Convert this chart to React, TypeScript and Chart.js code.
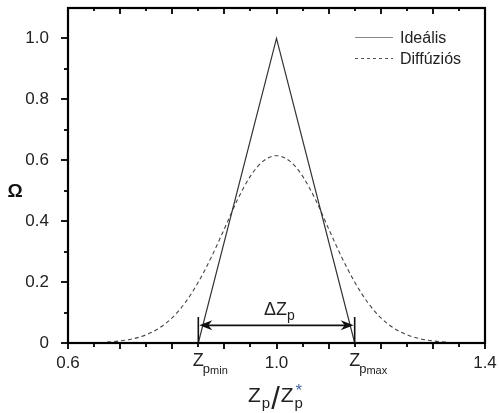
import React, { useEffect, useRef } from "react";
import { Chart, registerables } from "chart.js";

Chart.register(...registerables);

// ---- data ----
const IDEAL_X = [0.85, 1.0, 1.15];
const IDEAL_Y = [0, 1.0, 0];

const DIFF_X = [
  0.675, 0.7, 0.725, 0.75, 0.775, 0.8, 0.825, 0.85, 0.875, 0.9, 0.925, 0.95, 0.975, 1.0,
  1.025, 1.05, 1.075, 1.1, 1.125, 1.15, 1.175, 1.2, 1.225, 1.25, 1.275, 1.3, 1.325,
];
const DIFF_Y = [
  0.003, 0.007, 0.014, 0.027, 0.049, 0.083, 0.133, 0.2, 0.282, 0.375, 0.47, 0.548, 0.598, 0.615,
  0.598, 0.548, 0.47, 0.375, 0.282, 0.2, 0.133, 0.083, 0.049, 0.027, 0.014, 0.007, 0.003,
];

const X_TICK_LABELS = [0.6, 1.0, 1.4];
const Y_TICK_LABELS = [0, 0.2, 0.4, 0.6, 0.8, 1.0];
const X_MARK_TICKS = [0.6, 0.65, 0.7, 0.75, 0.8, 0.85, 0.9, 0.95, 1.0, 1.05, 1.1, 1.15, 1.2, 1.25, 1.3, 1.35, 1.4];
const Y_MARK_TICKS = [0, 0.1, 0.2, 0.3, 0.4, 0.5, 0.6, 0.7, 0.8, 0.9, 1.0];

const Z_MIN = 0.85;
const Z_MAX = 1.15;
const ARROW_Y = 0.058;
const BAR_TOP = 0.085;

const LEGEND = ["Ideális", "Diffúziós"];

const FONT = "'Liberation Sans', Arial, sans-serif";

const overlay = {
  id: "overlay",
  afterDraw(chart: any) {
    const ctx = chart.ctx as CanvasRenderingContext2D;
    const xs = chart.scales.x;
    const ys = chart.scales.y;
    const { left, right, top, bottom } = chart.chartArea;
    ctx.save();

    // frame
    ctx.strokeStyle = "#000";
    ctx.lineWidth = 2.2;
    ctx.strokeRect(left, top, right - left, bottom - top);

    // ticks
    ctx.lineWidth = 1.8;
    X_MARK_TICKS.forEach((v, i) => {
      const px = Math.round(xs.getPixelForValue(v));
      const major = i % 2 === 0;
      ctx.beginPath();
      ctx.moveTo(px, bottom);
      ctx.lineTo(px, bottom + (major ? 6 : 4));
      ctx.moveTo(px, top);
      ctx.lineTo(px, top + (major ? 6 : 3));
      ctx.stroke();
    });
    Y_MARK_TICKS.forEach((v, i) => {
      const py = Math.round(ys.getPixelForValue(v));
      const major = i % 2 === 0;
      ctx.beginPath();
      ctx.moveTo(left, py);
      ctx.lineTo(left - (major ? 7 : 4), py);
      ctx.stroke();
    });

    // delta arrow
    const x1 = xs.getPixelForValue(Z_MIN);
    const x2 = xs.getPixelForValue(Z_MAX);
    const ay = ys.getPixelForValue(ARROW_Y);
    const by = ys.getPixelForValue(BAR_TOP);
    ctx.strokeStyle = "#111";
    ctx.fillStyle = "#111";
    ctx.lineWidth = 1.6;
    ctx.beginPath();
    ctx.moveTo(x1, bottom);
    ctx.lineTo(x1, by);
    ctx.moveTo(x2, bottom);
    ctx.lineTo(x2, by);
    ctx.moveTo(x1 + 4, ay);
    ctx.lineTo(x2 - 4, ay);
    ctx.stroke();
    const head = (tip: number, dir: number) => {
      ctx.beginPath();
      ctx.moveTo(tip, ay);
      ctx.lineTo(tip + dir * 13, ay - 5);
      ctx.lineTo(tip + dir * 9, ay);
      ctx.lineTo(tip + dir * 13, ay + 5);
      ctx.closePath();
      ctx.fill();
    };
    head(x1 + 1, 1);
    head(x2 - 1, -1);

    // ΔZp label
    ctx.fillStyle = "#222";
    ctx.textBaseline = "alphabetic";
    ctx.textAlign = "left";
    const cx = xs.getPixelForValue(1.0);
    ctx.font = `18px ${FONT}`;
    const dz = "ΔZ";
    const wdz = ctx.measureText(dz).width;
    ctx.font = `14px ${FONT}`;
    const wp = ctx.measureText("p").width;
    const startX = cx + 3 - (wdz + wp) / 2;
    ctx.font = `18px ${FONT}`;
    ctx.fillText(dz, startX, ay - 10);
    ctx.font = `14px ${FONT}`;
    ctx.fillText("p", startX + wdz, ay - 5);

    // Z_pmin / Z_pmax
    const zlabel = (v: number, sub: string) => {
      const px = xs.getPixelForValue(v);
      ctx.font = `18px ${FONT}`;
      const wz = ctx.measureText("Z").width;
      ctx.fillText("Z", px - wz / 2, bottom + 23);
      ctx.font = `13px ${FONT}`;
      ctx.fillText("p", px + wz / 2 - 1, bottom + 30);
      const wpp = ctx.measureText("p").width;
      ctx.font = `11px ${FONT}`;
      ctx.fillText(sub, px + wz / 2 - 1 + wpp, bottom + 31);
    };
    zlabel(Z_MIN, "min");
    zlabel(Z_MAX, "max");

    // x title
    let tx = 248;
    const tb = 402;
    ctx.font = `21px ${FONT}`;
    ctx.fillText("Z", tx, tb);
    tx += ctx.measureText("Z").width + 1;
    ctx.font = `15px ${FONT}`;
    ctx.fillText("p", tx, tb + 6);
    tx += ctx.measureText("p").width + 1;
    ctx.font = `31px ${FONT}`;
    ctx.fillText("/", tx, tb + 7);
    tx += ctx.measureText("/").width + 1;
    ctx.font = `21px ${FONT}`;
    ctx.fillText("Z", tx, tb);
    tx += ctx.measureText("Z").width + 1;
    ctx.font = `15px ${FONT}`;
    ctx.fillText("p", tx, tb + 6);
    ctx.fillStyle = "#4a6aa8";
    ctx.font = `17px ${FONT}`;
    ctx.fillText("*", tx + 1, tb - 6);

    // y title
    ctx.fillStyle = "#111";
    ctx.font = `bold 19px ${FONT}`;
    ctx.textAlign = "center";
    ctx.fillText("Ω", 15, 197);

    // legend
    ctx.textAlign = "left";
    ctx.lineWidth = 1.2;
    ctx.strokeStyle = "#888";
    ctx.beginPath();
    ctx.moveTo(355, 37.5);
    ctx.lineTo(393, 37.5);
    ctx.stroke();
    ctx.strokeStyle = "#555";
    ctx.lineWidth = 1;
    ctx.setLineDash([3, 3]);
    ctx.beginPath();
    ctx.moveTo(355, 58.5);
    ctx.lineTo(393, 58.5);
    ctx.stroke();
    ctx.setLineDash([]);
    ctx.fillStyle = "#222";
    ctx.font = `16px ${FONT}`;
    ctx.fillText(LEGEND[0], 400, 43);
    ctx.fillText(LEGEND[1], 400, 64);

    ctx.restore();
  },
};

export default function App() {
  const ref = useRef<HTMLCanvasElement | null>(null);
  useEffect(() => {
    if (!ref.current) return;
    const chart = new Chart(ref.current, {
      type: "scatter",
      data: {
        datasets: [
          {
            label: LEGEND[0],
            data: IDEAL_X.map((x, i) => ({ x, y: IDEAL_Y[i] })),
            showLine: true,
            borderColor: "#333",
            borderWidth: 1.2,
            pointRadius: 0,
            tension: 0,
          },
          {
            label: LEGEND[1],
            data: DIFF_X.map((x, i) => ({ x, y: DIFF_Y[i] })),
            showLine: true,
            borderColor: "#444",
            borderWidth: 1.1,
            borderDash: [4, 3],
            pointRadius: 0,
            tension: 0.4,
            cubicInterpolationMode: "monotone",
          },
        ],
      },
      options: {
        responsive: false,
        animation: false,
        layout: { padding: { top: 8, right: 14, left: 0, bottom: 0 } },
        plugins: { legend: { display: false }, tooltip: { enabled: false } },
        scales: {
          x: {
            type: "linear",
            min: 0.6,
            max: 1.4,
            afterBuildTicks: (s: any) => {
              s.ticks = X_TICK_LABELS.map((v) => ({ value: v }));
            },
            afterFit: (s: any) => {
              s.height = 70;
              s.paddingLeft = 0;
              s.paddingRight = 0;
              s.paddingTop = 0;
              s.paddingBottom = 0;
            },
            grid: { display: false },
            border: { display: false },
            ticks: {
              autoSkip: false,
              maxRotation: 0,
              padding: 2,
              color: "#222",
              font: { family: FONT, size: 17 },
              callback: (v: any) => Number(v).toFixed(1),
            },
          },
          y: {
            min: 0,
            max: 1.1,
            afterBuildTicks: (s: any) => {
              s.ticks = Y_TICK_LABELS.map((v) => ({ value: v }));
            },
            afterFit: (s: any) => {
              s.width = 68;
              s.paddingLeft = 0;
              s.paddingRight = 0;
              s.paddingTop = 0;
              s.paddingBottom = 0;
            },
            grid: { display: false },
            border: { display: false },
            ticks: {
              autoSkip: false,
              padding: 11,
              color: "#222",
              font: { family: FONT, size: 17 },
              callback: (v: any) => (Number(v) === 0 ? "0" : Number(v).toFixed(1)),
            },
          },
        },
      },
      plugins: [overlay],
    } as any);
    return () => chart.destroy();
  }, []);
  return (
    <div style={{ position: "fixed", left: 0, top: 0, width: 499, height: 413, background: "#fff" }}>
      <canvas ref={ref} width={499} height={413} />
    </div>
  );
}
